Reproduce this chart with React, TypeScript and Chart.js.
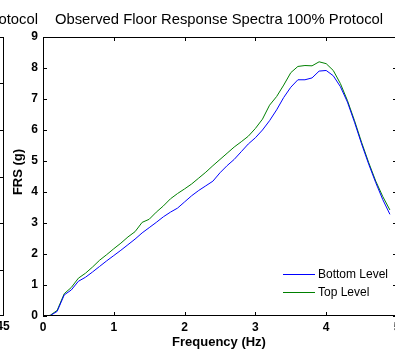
import React, { useEffect, useRef } from "react";
import { Chart, registerables } from "chart.js";

Chart.register(...registerables);

const chartTitle = "Observed Floor Response Spectra 100% Protocol";
const xAxisTitle = "Frequency (Hz)";
const yAxisTitle = "FRS (g)";
const seriesNames = ["Bottom Level", "Top Level"];
const seriesColors = ["#0000ff", "#008000"];

const freq = [
  0, 0.1, 0.2, 0.3, 0.4, 0.5, 0.6, 0.7, 0.8, 0.9,
  1.0, 1.1, 1.2, 1.3, 1.4, 1.5, 1.6, 1.7, 1.8, 1.9,
  2.0, 2.1, 2.2, 2.3, 2.4, 2.5, 2.6, 2.7, 2.8, 2.9,
  3.0, 3.1, 3.2, 3.3, 3.4, 3.5, 3.6, 3.7, 3.8, 3.9,
  4.0, 4.1, 4.2, 4.3, 4.4, 4.5, 4.6, 4.7, 4.8, 4.9,
];

const bottomLevel = [
  0, 0.01, 0.15, 0.68, 0.84, 1.12, 1.25, 1.42, 1.6, 1.78,
  1.95, 2.12, 2.3, 2.48, 2.68, 2.85, 3.02, 3.2, 3.35, 3.48,
  3.68, 3.88, 4.05, 4.2, 4.35, 4.62, 4.85, 5.05, 5.3, 5.55,
  5.75, 6.0, 6.3, 6.65, 7.05, 7.38, 7.62, 7.62, 7.68, 7.9,
  7.92, 7.75, 7.4, 6.9, 6.25, 5.55, 4.9, 4.3, 3.75, 3.28,
];

const topLevel = [
  0, 0.02, 0.18, 0.72, 0.92, 1.22, 1.38, 1.58, 1.8, 1.98,
  2.17, 2.35, 2.55, 2.72, 3.02, 3.12, 3.35, 3.55, 3.78, 3.95,
  4.1, 4.26, 4.45, 4.64, 4.85, 5.05, 5.25, 5.45, 5.62, 5.8,
  6.05, 6.35, 6.8, 7.08, 7.45, 7.85, 8.05, 8.08, 8.07, 8.2,
  8.14, 7.92, 7.5, 6.95, 6.3, 5.6, 4.95, 4.35, 3.85, 3.42,
];

const xTicks = [0, 1, 2, 3, 4, 5];
const yTicks = [0, 1, 2, 3, 4, 5, 6, 7, 8, 9];

// partial neighbouring panel visible at the left edge
const neighborTitle = "Protocol";
const neighborTickLabel = "45";

const FONT = '"Liberation Sans", Arial, Helvetica, sans-serif';

const decorPlugin = {
  id: "decor",
  afterDraw(chart: any) {
    const ctx = chart.ctx;
    const { left, right, top, bottom } = chart.chartArea;
    const xs = chart.scales.x;
    const ys = chart.scales.y;
    ctx.save();
    ctx.strokeStyle = "#000";
    ctx.fillStyle = "#000";
    ctx.lineWidth = 1;

    // box
    ctx.beginPath();
    ctx.moveTo(left + 0.5, top + 0.5);
    ctx.lineTo(right - 0.5, top + 0.5);
    ctx.lineTo(right - 0.5, bottom - 0.5);
    ctx.lineTo(left + 0.5, bottom - 0.5);
    ctx.closePath();
    ctx.stroke();

    // inner ticks
    const tl = 4;
    ctx.beginPath();
    xTicks.forEach((v) => {
      const px = Math.round(xs.getPixelForValue(v)) + 0.5;
      ctx.moveTo(px, bottom);
      ctx.lineTo(px, bottom - tl);
      ctx.moveTo(px, top);
      ctx.lineTo(px, top + tl);
    });
    yTicks.forEach((v) => {
      const py = Math.round(ys.getPixelForValue(v)) + 0.5;
      ctx.moveTo(left, py);
      ctx.lineTo(left + tl, py);
      ctx.moveTo(right, py);
      ctx.lineTo(right - tl, py);
    });
    ctx.stroke();

    // title
    ctx.font = `14.8px ${FONT}`;
    ctx.textAlign = "center";
    ctx.textBaseline = "middle";
    ctx.fillText(chartTitle, 219, 20);

    // axis titles
    ctx.font = `bold 13px ${FONT}`;
    ctx.fillText(xAxisTitle, 219, 342);
    ctx.save();
    ctx.translate(18, 172);
    ctx.rotate(-Math.PI / 2);
    ctx.fillText(yAxisTitle, 0, 0);
    ctx.restore();

    // legend
    ctx.font = `12px ${FONT}`;
    ctx.textAlign = "left";
    const legendY = [274, 292];
    seriesNames.forEach((name, i) => {
      ctx.strokeStyle = seriesColors[i];
      ctx.beginPath();
      ctx.moveTo(283, legendY[i] + 0.5);
      ctx.lineTo(315, legendY[i] + 0.5);
      ctx.stroke();
      ctx.fillStyle = "#000";
      ctx.fillText(name, 318, legendY[i] + 1);
    });

    // neighbouring panel remnants
    ctx.strokeStyle = "#000";
    ctx.fillStyle = "#000";
    ctx.beginPath();
    ctx.moveTo(3.5, top);
    ctx.lineTo(3.5, bottom);
    ctx.moveTo(0, top + 0.5);
    ctx.lineTo(4, top + 0.5);
    ctx.moveTo(0, bottom - 0.5);
    ctx.lineTo(4, bottom - 0.5);
    [83, 130, 177, 223, 270].forEach((py) => {
      ctx.moveTo(0, py + 0.5);
      ctx.lineTo(3, py + 0.5);
    });
    ctx.stroke();
    ctx.font = `14.8px ${FONT}`;
    ctx.textAlign = "right";
    ctx.textBaseline = "middle";
    ctx.fillText(neighborTitle, 38, 20);
    ctx.font = `bold 12px ${FONT}`;
    ctx.textAlign = "center";
    ctx.fillText(neighborTickLabel, 3, 327);

    ctx.restore();
  },
};

export default function App() {
  const ref = useRef<HTMLCanvasElement>(null);
  useEffect(() => {
    if (!ref.current) return;
    const chart = new Chart(ref.current, {
      type: "line",
      data: {
        datasets: [
          {
            label: seriesNames[0],
            data: freq.map((f, i) => ({ x: f, y: bottomLevel[i] })),
            borderColor: seriesColors[0],
            borderWidth: 1,
            pointRadius: 0,
            fill: false,
          },
          {
            label: seriesNames[1],
            data: freq.map((f, i) => ({ x: f, y: topLevel[i] })),
            borderColor: seriesColors[1],
            borderWidth: 1,
            pointRadius: 0,
            fill: false,
          },
        ],
      },
      options: {
        responsive: false,
        animation: false,
        layout: { padding: { top: 37, left: 0, right: 1, bottom: 0 } },
        plugins: {
          legend: { display: false },
          title: { display: false },
          tooltip: { enabled: false },
        },
        scales: {
          x: {
            type: "linear",
            min: 0,
            max: 5,
            afterBuildTicks: (s: any) => {
              s.ticks = xTicks.map((v) => ({ value: v }));
            },
            afterFit: (s: any) => {
              s.height = 34;
              s.paddingLeft = 0;
              s.paddingRight = 0;
            },
            grid: { display: false, drawTicks: false },
            border: { display: false },
            ticks: {
              padding: 4,
              color: "#000",
              maxRotation: 0,
              autoSkip: false,
              font: { family: FONT, size: 12, weight: "bold" },
            },
          },
          y: {
            type: "linear",
            min: 0,
            max: 9,
            afterBuildTicks: (s: any) => {
              s.ticks = yTicks.map((v) => ({ value: v }));
            },
            afterFit: (s: any) => {
              s.width = 43;
              s.paddingTop = 0;
              s.paddingBottom = 0;
            },
            grid: { display: false, drawTicks: false },
            border: { display: false },
            ticks: {
              padding: 5,
              color: "#000",
              autoSkip: false,
              font: { family: FONT, size: 12, weight: "bold" },
            },
          },
        },
      },
      plugins: [decorPlugin],
    } as any);
    return () => chart.destroy();
  }, []);
  return (
    <canvas
      ref={ref}
      width={398}
      height={350}
      style={{ position: "fixed", left: 0, top: 0, width: 398, height: 350, background: "#fff" }}
    />
  );
}
